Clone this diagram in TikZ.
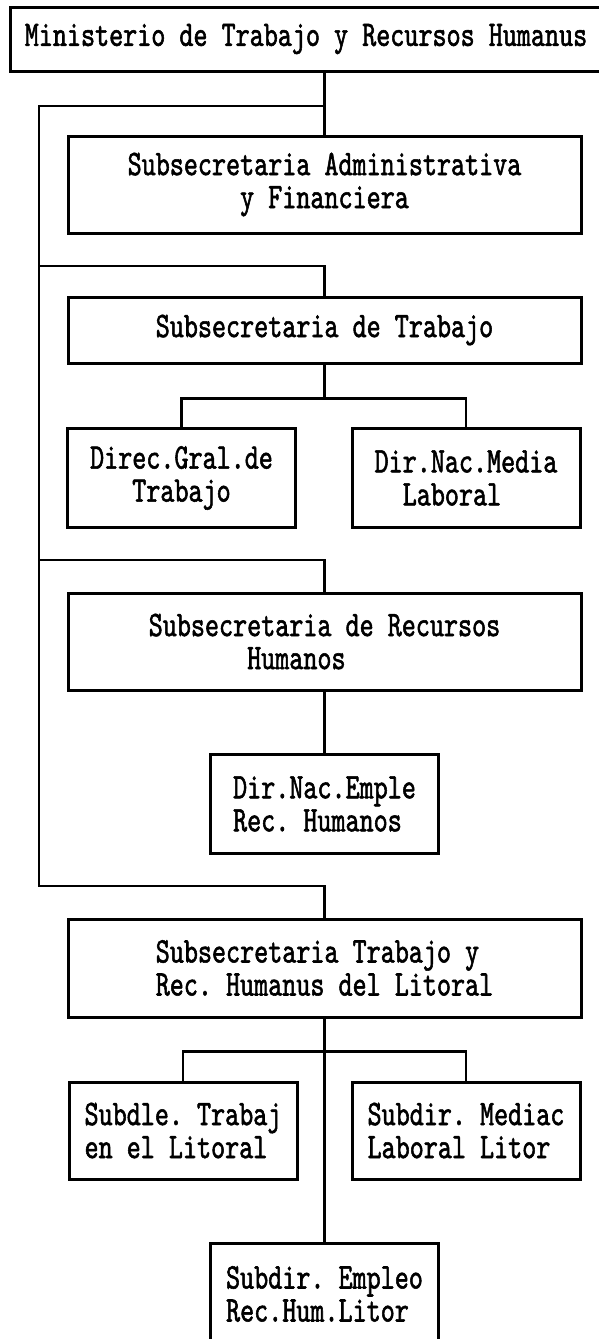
\documentclass[tikz,border=0pt]{standalone}
\usepackage{fontspec}
\newfontfamily\orgfont[FakeStretch=0.744,FakeBold=1.5]{lmmono10-regular.otf}
\newcommand{\pad}[1]{\hspace*{#1\fontcharwd\font`x}}
\frenchspacing

\begin{document}
\begin{tikzpicture}[x=1pt,y=-1pt,
        unit/.style={rectangle,draw,line width=3pt,inner sep=2pt,align=center,
            font=\orgfont\fontsize{36}{33}\selectfont},
        wide/.style={unit,minimum width=513pt,minimum height=97pt},
        small/.style={unit,minimum width=228pt,minimum height=99pt}]
        \useasboundingbox (0,0) rectangle (599,1339);

        \node[unit,minimum width=592pt,minimum height=64pt] (min) at (306,39) {Ministerio de Trabajo y Recursos Humanus};
        \node[wide] (adm) at (324.5,184.5) {Subsecretaria Administrativa\\y Financiera};
        \node[wide,minimum height=66pt] (trab) at (324.5,330) {Subsecretaria de Trabajo};
        \node[small] (dgt) at (181.5,478) {Direc.Gral.de\\Trabajo};
        \node[small,align=left] (dnm) at (466,478) {Dir.Nac.Media\\\pad{2}Laboral};
        \node[wide,align=left] (rrhh) at (324.5,641.5) {Subsecretaria de Recursos\\\pad{7}Humanos};
        \node[small,align=left] (dne) at (324.5,804) {Dir.Nac.Emple\\Rec. Humanos};
        \node[wide,minimum height=98pt,align=left] (lit) at (324.5,968) {Subsecretaria Trabajo y\\Rec. Humanus del Litoral};
        \node[small,minimum height=97pt,align=left] (sdt) at (183,1130.5) {Subdle. Trabaj\\en el Litoral};
        \node[small,minimum height=97pt,align=left] (sdm) at (466,1130.5) {Subdir. Mediac\\Laboral Litor};
        \node[small,minimum height=102pt,align=left] (sde) at (324.5,1294) {Subdir. Empleo\\Rec.Hum.Litor};

        % trunk on the left and the two bars
        \coordinate (ttop) at (39,106);
        \coordinate (tbot) at (39,886);
        \coordinate (ftrab) at (39,266);
        \coordinate (frrhh) at (39,560);
        \coordinate (barT) at ([yshift=-34pt]trab.south);
        \coordinate (barL) at ([yshift=-33pt]lit.south);

        \begin{scope}[line width=2.4pt]
            \draw (min.south -| adm.north) -- (adm.north);
            \draw (ttop -| adm.north) -- (ttop) -- (tbot) -| (lit.north);
            \draw (ftrab) -| (trab.north);
            \draw (frrhh) -| (rrhh.north);
            \draw (trab.south) -- (barT);
            \draw (dgt.north) |- (barT) -| (dnm.north);
            \draw (rrhh.south) -- (dne.north);
            \draw (lit.south) -- (sde.north);
            \draw (sdt.north) |- (barL) -| (sdm.north);
        \end{scope}
    \end{tikzpicture}
\end{document}
